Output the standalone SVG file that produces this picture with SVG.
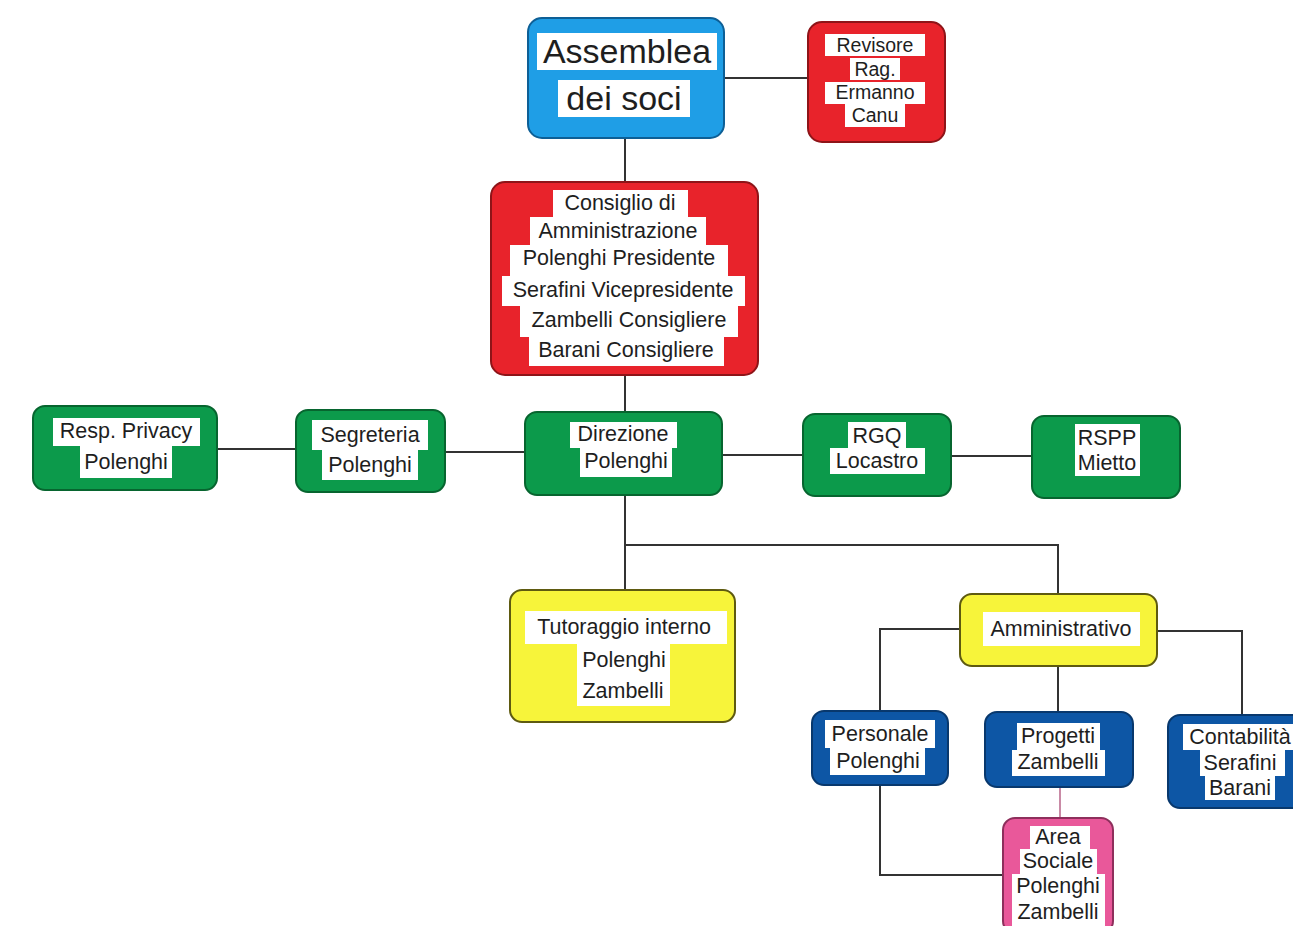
<svg xmlns="http://www.w3.org/2000/svg" width="1293" height="926" viewBox="0 0 1293 926">
<style>
.t{font-family:"Liberation Sans",Arial,sans-serif;font-size:21.5px;fill:#1e1e1e;text-anchor:middle}
.big{font-size:34px}
.sm{font-size:19.5px}
.hl{fill:#ffffff}
.blue{fill:#1f9ee6;stroke:#0d5f96;stroke-width:2}
.red{fill:#e8232b;stroke:#8e1418;stroke-width:2}
.green{fill:#0c9a4b;stroke:#07652f;stroke-width:2}
.yellow{fill:#f7f43a;stroke:#5e5a10;stroke-width:2}
.dblue{fill:#0d56a5;stroke:#08386d;stroke-width:2}
.pink{fill:#e9589a;stroke:#8e2f5c;stroke-width:2}
.c{fill:none;stroke:#333;stroke-width:2}
</style>
<rect width="1293" height="926" fill="#ffffff"/>
<g id="connectors">
<path class="c" d="M724 78H808"/>
<path class="c" d="M625 138V182"/>
<path class="c" d="M625 375V412"/>
<path class="c" d="M217 449H296"/>
<path class="c" d="M445 452H525"/>
<path class="c" d="M722 455H803"/>
<path class="c" d="M951 456H1032"/>
<path class="c" d="M625 495V590"/>
<path class="c" d="M625 545H1058V594"/>
<path class="c" d="M960 629H880V711"/>
<path class="c" d="M1157 631H1242V715"/>
<path class="c" d="M1058 666V712"/>
<path class="c" d="M880 785V875H1003"/>
<path class="c" d="M1060 787V818" style="stroke:#c98aa6"/>
</g>
<g id="assemblea">
<rect class="blue" x="528" y="18" width="196" height="120" rx="14"/>
<rect class="hl" x="537" y="33" width="180" height="37"/>
<rect class="hl" x="558" y="80" width="132" height="37"/>
<text class="t big" x="627" y="63">Assemblea</text>
<text class="t big" x="624" y="110">dei soci</text>
</g>
<g id="revisore">
<rect class="red" x="808" y="22" width="137" height="120" rx="14"/>
<rect class="hl" x="825" y="34" width="100" height="22"/>
<rect class="hl" x="850" y="58" width="50" height="22"/>
<rect class="hl" x="825" y="82" width="100" height="22"/>
<rect class="hl" x="845" y="104" width="60" height="23"/>
<text class="t sm" x="875" y="52">Revisore</text>
<text class="t sm" x="875" y="76">Rag.</text>
<text class="t sm" x="875" y="99">Ermanno</text>
<text class="t sm" x="875" y="122">Canu</text>
</g>
<g id="consiglio">
<rect class="red" x="491" y="182" width="267" height="193" rx="14"/>
<rect class="hl" x="553" y="190" width="135" height="27"/>
<rect class="hl" x="530" y="217" width="176" height="28"/>
<rect class="hl" x="510" y="245" width="218" height="31"/>
<rect class="hl" x="502" y="276" width="243" height="30"/>
<rect class="hl" x="520" y="306" width="218" height="31"/>
<rect class="hl" x="529" y="337" width="195" height="29"/>
<text class="t" x="620" y="210">Consiglio di</text>
<text class="t" x="618" y="238">Amministrazione</text>
<text class="t" x="619" y="265">Polenghi Presidente</text>
<text class="t" x="623" y="297">Serafini Vicepresidente</text>
<text class="t" x="629" y="327">Zambelli Consigliere</text>
<text class="t" x="626" y="357">Barani Consigliere</text>
</g>
<g id="privacy">
<rect class="green" x="33" y="406" width="184" height="84" rx="12"/>
<rect class="hl" x="53" y="418" width="147" height="28"/>
<rect class="hl" x="80" y="446" width="92" height="32"/>
<text class="t" x="126" y="438">Resp. Privacy</text>
<text class="t" x="126" y="469">Polenghi</text>
</g>
<g id="segreteria">
<rect class="green" x="296" y="410" width="149" height="82" rx="12"/>
<rect class="hl" x="312" y="420" width="116" height="30"/>
<rect class="hl" x="322" y="450" width="96" height="30"/>
<text class="t" x="370" y="442">Segreteria</text>
<text class="t" x="370" y="472">Polenghi</text>
</g>
<g id="direzione">
<rect class="green" x="525" y="412" width="197" height="83" rx="12"/>
<rect class="hl" x="570" y="422" width="107" height="26"/>
<rect class="hl" x="580" y="448" width="92" height="29"/>
<text class="t" x="623" y="441">Direzione</text>
<text class="t" x="626" y="468">Polenghi</text>
</g>
<g id="rgq">
<rect class="green" x="803" y="414" width="148" height="82" rx="12"/>
<rect class="hl" x="848" y="422" width="58" height="26"/>
<rect class="hl" x="830" y="448" width="95" height="26"/>
<text class="t" x="877" y="443">RGQ</text>
<text class="t" x="877" y="468">Locastro</text>
</g>
<g id="rspp">
<rect class="green" x="1032" y="416" width="148" height="82" rx="12"/>
<rect class="hl" x="1075" y="424" width="65" height="26"/>
<rect class="hl" x="1075" y="450" width="65" height="26"/>
<text class="t" x="1107" y="445">RSPP</text>
<text class="t" x="1107" y="470">Mietto</text>
</g>
<g id="tutoraggio">
<rect class="yellow" x="510" y="590" width="225" height="132" rx="12"/>
<rect class="hl" x="525" y="611" width="202" height="33"/>
<rect class="hl" x="577" y="644" width="93" height="32"/>
<rect class="hl" x="577" y="676" width="93" height="30"/>
<text class="t" x="624" y="634">Tutoraggio interno</text>
<text class="t" x="624" y="667">Polenghi</text>
<text class="t" x="623" y="698">Zambelli</text>
</g>
<g id="amministrativo">
<rect class="yellow" x="960" y="594" width="197" height="72" rx="12"/>
<rect class="hl" x="983" y="612" width="157" height="34"/>
<text class="t" x="1061" y="636">Amministrativo</text>
</g>
<g id="personale">
<rect class="dblue" x="812" y="711" width="136" height="74" rx="12"/>
<rect class="hl" x="825" y="720" width="110" height="28"/>
<rect class="hl" x="830" y="748" width="95" height="27"/>
<text class="t" x="880" y="741">Personale</text>
<text class="t" x="878" y="768">Polenghi</text>
</g>
<g id="progetti">
<rect class="dblue" x="985" y="712" width="148" height="75" rx="12"/>
<rect class="hl" x="1017" y="723" width="83" height="27"/>
<rect class="hl" x="1012" y="750" width="93" height="26"/>
<text class="t" x="1058" y="743">Progetti</text>
<text class="t" x="1058" y="769">Zambelli</text>
</g>
<g id="contabilita">
<rect class="dblue" x="1168" y="715" width="140" height="93" rx="12"/>
<rect class="hl" x="1183" y="724" width="110" height="26"/>
<rect class="hl" x="1200" y="750" width="85" height="26"/>
<rect class="hl" x="1205" y="776" width="70" height="24"/>
<text class="t" x="1240" y="744">Contabilità</text>
<text class="t" x="1240" y="770">Serafini</text>
<text class="t" x="1240" y="795">Barani</text>
</g>
<g id="areasociale">
<rect class="pink" x="1003" y="818" width="110" height="115" rx="12"/>
<rect class="hl" x="1030" y="826" width="60" height="23"/>
<rect class="hl" x="1020" y="849" width="77" height="25"/>
<rect class="hl" x="1012" y="874" width="93" height="26"/>
<rect class="hl" x="1012" y="900" width="93" height="26"/>
<text class="t" x="1058" y="844">Area</text>
<text class="t" x="1058" y="868">Sociale</text>
<text class="t" x="1058" y="893">Polenghi</text>
<text class="t" x="1058" y="919">Zambelli</text>
</g>
</svg>
